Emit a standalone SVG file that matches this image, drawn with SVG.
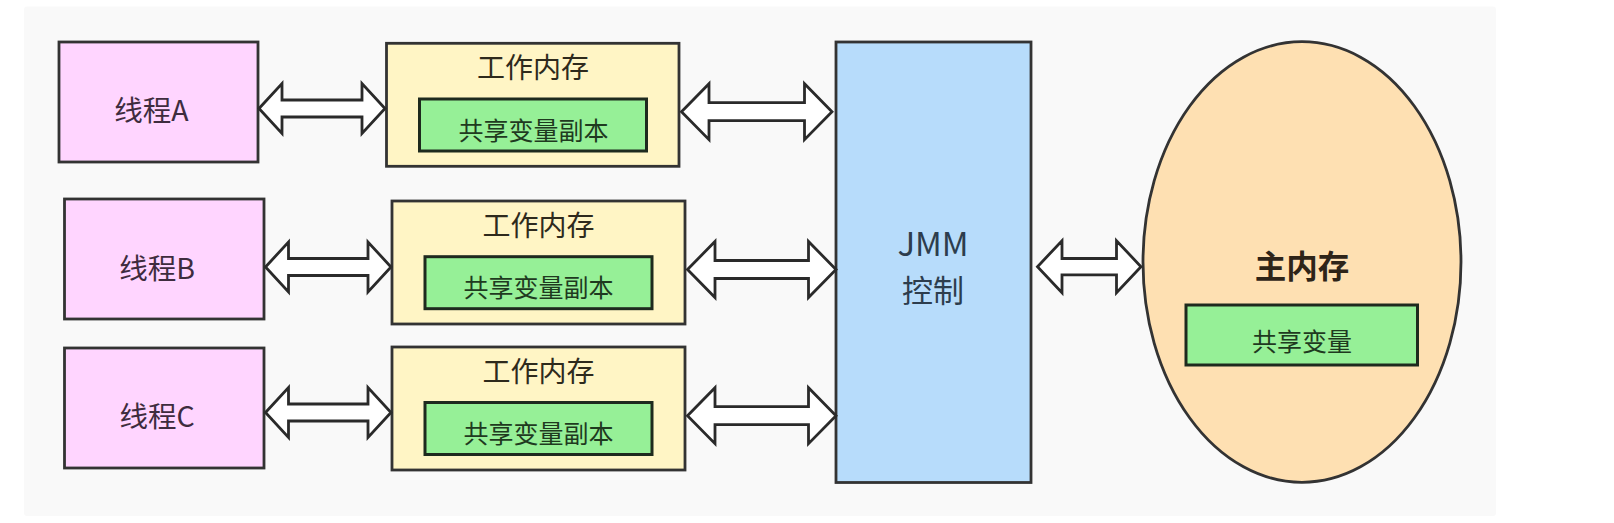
<svg xmlns="http://www.w3.org/2000/svg" width="1614" height="523" viewBox="0 0 1614 523">
<style>
.bx{stroke:#333;stroke-width:2.8}
.pink{fill:#ffd5ff}
.yel{fill:#fff5c5}
.grn{fill:#96f097;stroke:#1e2a1e;stroke-width:3}
.blue{fill:#b7dcfb}
.mem{fill:#fee0b2}
.arr{fill:#fff;stroke:#2a2a2a;stroke-width:2.8;stroke-linejoin:miter}
text{font-family:"Noto Sans CJK SC","Noto Sans",sans-serif;dominant-baseline:central;text-anchor:middle}
.t-p{font-size:28.5px;fill:#3e2c3e}
.t-y{font-size:28px;fill:#2e2a1c}
.t-g{font-size:25px;fill:#1f3a1f}
.t-b{font-size:31px;fill:#2d3d4d}
.t-m{font-size:31.5px;font-weight:bold;fill:#2e2418}
</style>
<rect x="24" y="6.5" width="1472" height="509.5" rx="3" fill="#f9f9f9"/>
<g id="threadA"><rect class="bx pink" x="59" y="42" width="199" height="120"/><text class="t-p" x="151.5" y="108.5">线程A</text></g>
<g id="threadB"><rect class="bx pink" x="64.5" y="199" width="199.5" height="120"/><text class="t-p" x="157" y="266">线程B</text></g>
<g id="threadC"><rect class="bx pink" x="64.5" y="348" width="199.5" height="120"/><text class="t-p" x="157" y="414">线程C</text></g>
<g id="work1"><rect class="bx yel" x="386.5" y="43.3" width="292.5" height="123"/><text class="t-y" x="533" y="66.3">工作内存</text><rect class="grn" x="419.5" y="99" width="227" height="52"/><text class="t-g" x="533.5" y="128.7">共享变量副本</text></g>
<g id="work2"><rect class="bx yel" x="392" y="201" width="293" height="123"/><text class="t-y" x="538.5" y="224">工作内存</text><rect class="grn" x="425" y="256.7" width="227" height="52"/><text class="t-g" x="538.5" y="286.4">共享变量副本</text></g>
<g id="work3"><rect class="bx yel" x="392" y="347" width="293" height="123"/><text class="t-y" x="538.5" y="370">工作内存</text><rect class="grn" x="425" y="402.5" width="227" height="52"/><text class="t-g" x="538.5" y="432.2">共享变量副本</text></g>
<g id="jmm"><rect class="bx blue" x="836" y="42" width="195" height="440.5"/><text class="t-b" x="933" y="242" style="font-size:33px">JMM</text><text class="t-b" x="933" y="288">控制</text></g>
<g id="mainmem"><ellipse class="bx mem" cx="1302" cy="262" rx="159" ry="220.3"/><text class="t-m" x="1302" y="264">主内存</text><rect class="grn" x="1186" y="305" width="231.5" height="60"/><text class="t-g" x="1302" y="339.5">共享变量</text></g>
<g id="connectors">
<path class="arr" d="M259,108.5 L282,83.5 L282,100 L362,100 L362,83.5 L385,108.5 L362,133.5 L362,117 L282,117 L282,133.5 Z"/>
<path class="arr" d="M265.5,267 L288.5,242 L288.5,258.5 L368,258.5 L368,242 L391,267 L368,292 L368,275.5 L288.5,275.5 L288.5,292 Z"/>
<path class="arr" d="M265.5,412.5 L288.5,387.5 L288.5,404 L368,404 L368,387.5 L391,412.5 L368,437.5 L368,421 L288.5,421 L288.5,437.5 Z"/>
<path class="arr" d="M681.5,111.7 L709,83.7 L709,102.7 L804.5,102.7 L804.5,83.7 L832,111.7 L804.5,139.7 L804.5,120.7 L709,120.7 L709,139.7 Z"/>
<path class="arr" d="M687.5,269.5 L715,241.5 L715,260.5 L808.5,260.5 L808.5,241.5 L836,269.5 L808.5,297.5 L808.5,278.5 L715,278.5 L715,297.5 Z"/>
<path class="arr" d="M687.5,415.7 L715,387.7 L715,406.7 L808.5,406.7 L808.5,387.7 L836,415.7 L808.5,443.7 L808.5,424.7 L715,424.7 L715,443.7 Z"/>
<path class="arr" d="M1037.5,266.7 L1062,240.7 L1062,258.5 L1116.5,258.5 L1116.5,240.7 L1141,266.7 L1116.5,292.7 L1116.5,274.9 L1062,274.9 L1062,292.7 Z"/>
</g>
</svg>
